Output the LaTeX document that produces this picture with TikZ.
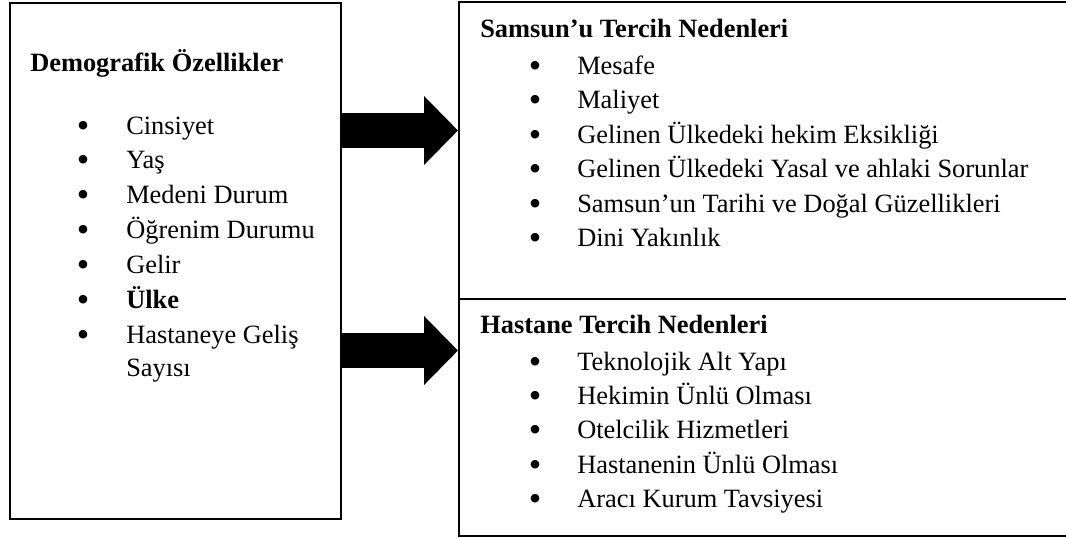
\documentclass[tikz,border=0pt]{standalone}
\usepackage{fontspec}
\setmainfont{Liberation Serif}
\usetikzlibrary{arrows.meta}
\begin{document}
\begin{tikzpicture}[x=0.75pt,y=-0.75pt,
  box/.style={draw, line width=1.5pt, inner sep=0pt, anchor=north west},
  txt/.style={anchor=base west, inner sep=0pt, font=\fontsize{19.8}{23}\selectfont},
  ttl/.style={txt, font=\fontsize{19.8}{23}\selectfont\bfseries},
  bul/.style={anchor=center, inner sep=0pt, font=\fontsize{19.8}{20}\selectfont, scale=1.35},
  bigarrow/.style={line width=26.25pt, -{Triangle[length=25.5pt,width=50.25pt]}}]
\useasboundingbox (0,0) rectangle (1066,537);
\clip (0,0) rectangle (1066,537);
% boxes
\node[box, minimum width=248.25pt, minimum height=387pt] (L) at (9,2) {};
\node[box, minimum width=459pt, minimum height=222.75pt] (R1) at (458,1) {};
\node[box, minimum width=459pt, minimum height=177.75pt] (R2) at (458,298) {};
% arrows
\draw[bigarrow] (L.east |- 0,130.5) -- (R1.west |- 0,130.5);
\draw[bigarrow] (L.east |- 0,350.5) -- (R2.west |- 0,350.5);
% left list
\node[ttl] (lt) at (30,71) {Demografik Özellikler};
\foreach \y/\t/\n in {134/Cinsiyet/a, 168/Yaş/b, 203/Medeni Durum/c, 238/Öğrenim Durumu/d, 273/Gelir/e, 308/\textbf{Ülke}/f, 343/Hastaneye Geliş/g}{
  \node[bul] (lb\n) at (83,\y-4.5) {•};
  \node[txt] (li\n) at (126,\y) {\t};
}
\node[txt] (lih) at (126,376) {Sayısı};
% right upper list
\node[ttl] (rt1) at (480,37) {Samsun’u Tercih Nedenleri};
\foreach \y/\t/\n in {74/Mesafe/a, 108/Maliyet/b, 143/Gelinen Ülkedeki hekim Eksikliği/c, 177/Gelinen Ülkedeki Yasal ve ahlaki Sorunlar/d, 212/Samsun’un Tarihi ve Doğal Güzellikleri/e, 246/Dini Yakınlık/f}{
  \node[bul] (rb\n) at (535,\y-4.5) {•};
  \node[txt] (ri\n) at (577,\y) {\t};
}
% right lower list
\node[ttl] (rt2) at (480,333) {Hastane Tercih Nedenleri};
\foreach \y/\t/\n in {370/Teknolojik Alt Yapı/a, 404/Hekimin Ünlü Olması/b, 438/Otelcilik Hizmetleri/c, 473/Hastanenin Ünlü Olması/d, 507/Aracı Kurum Tavsiyesi/e}{
  \node[bul] (sb\n) at (535,\y-4.5) {•};
  \node[txt] (si\n) at (577,\y) {\t};
}
\end{tikzpicture}
\end{document}
